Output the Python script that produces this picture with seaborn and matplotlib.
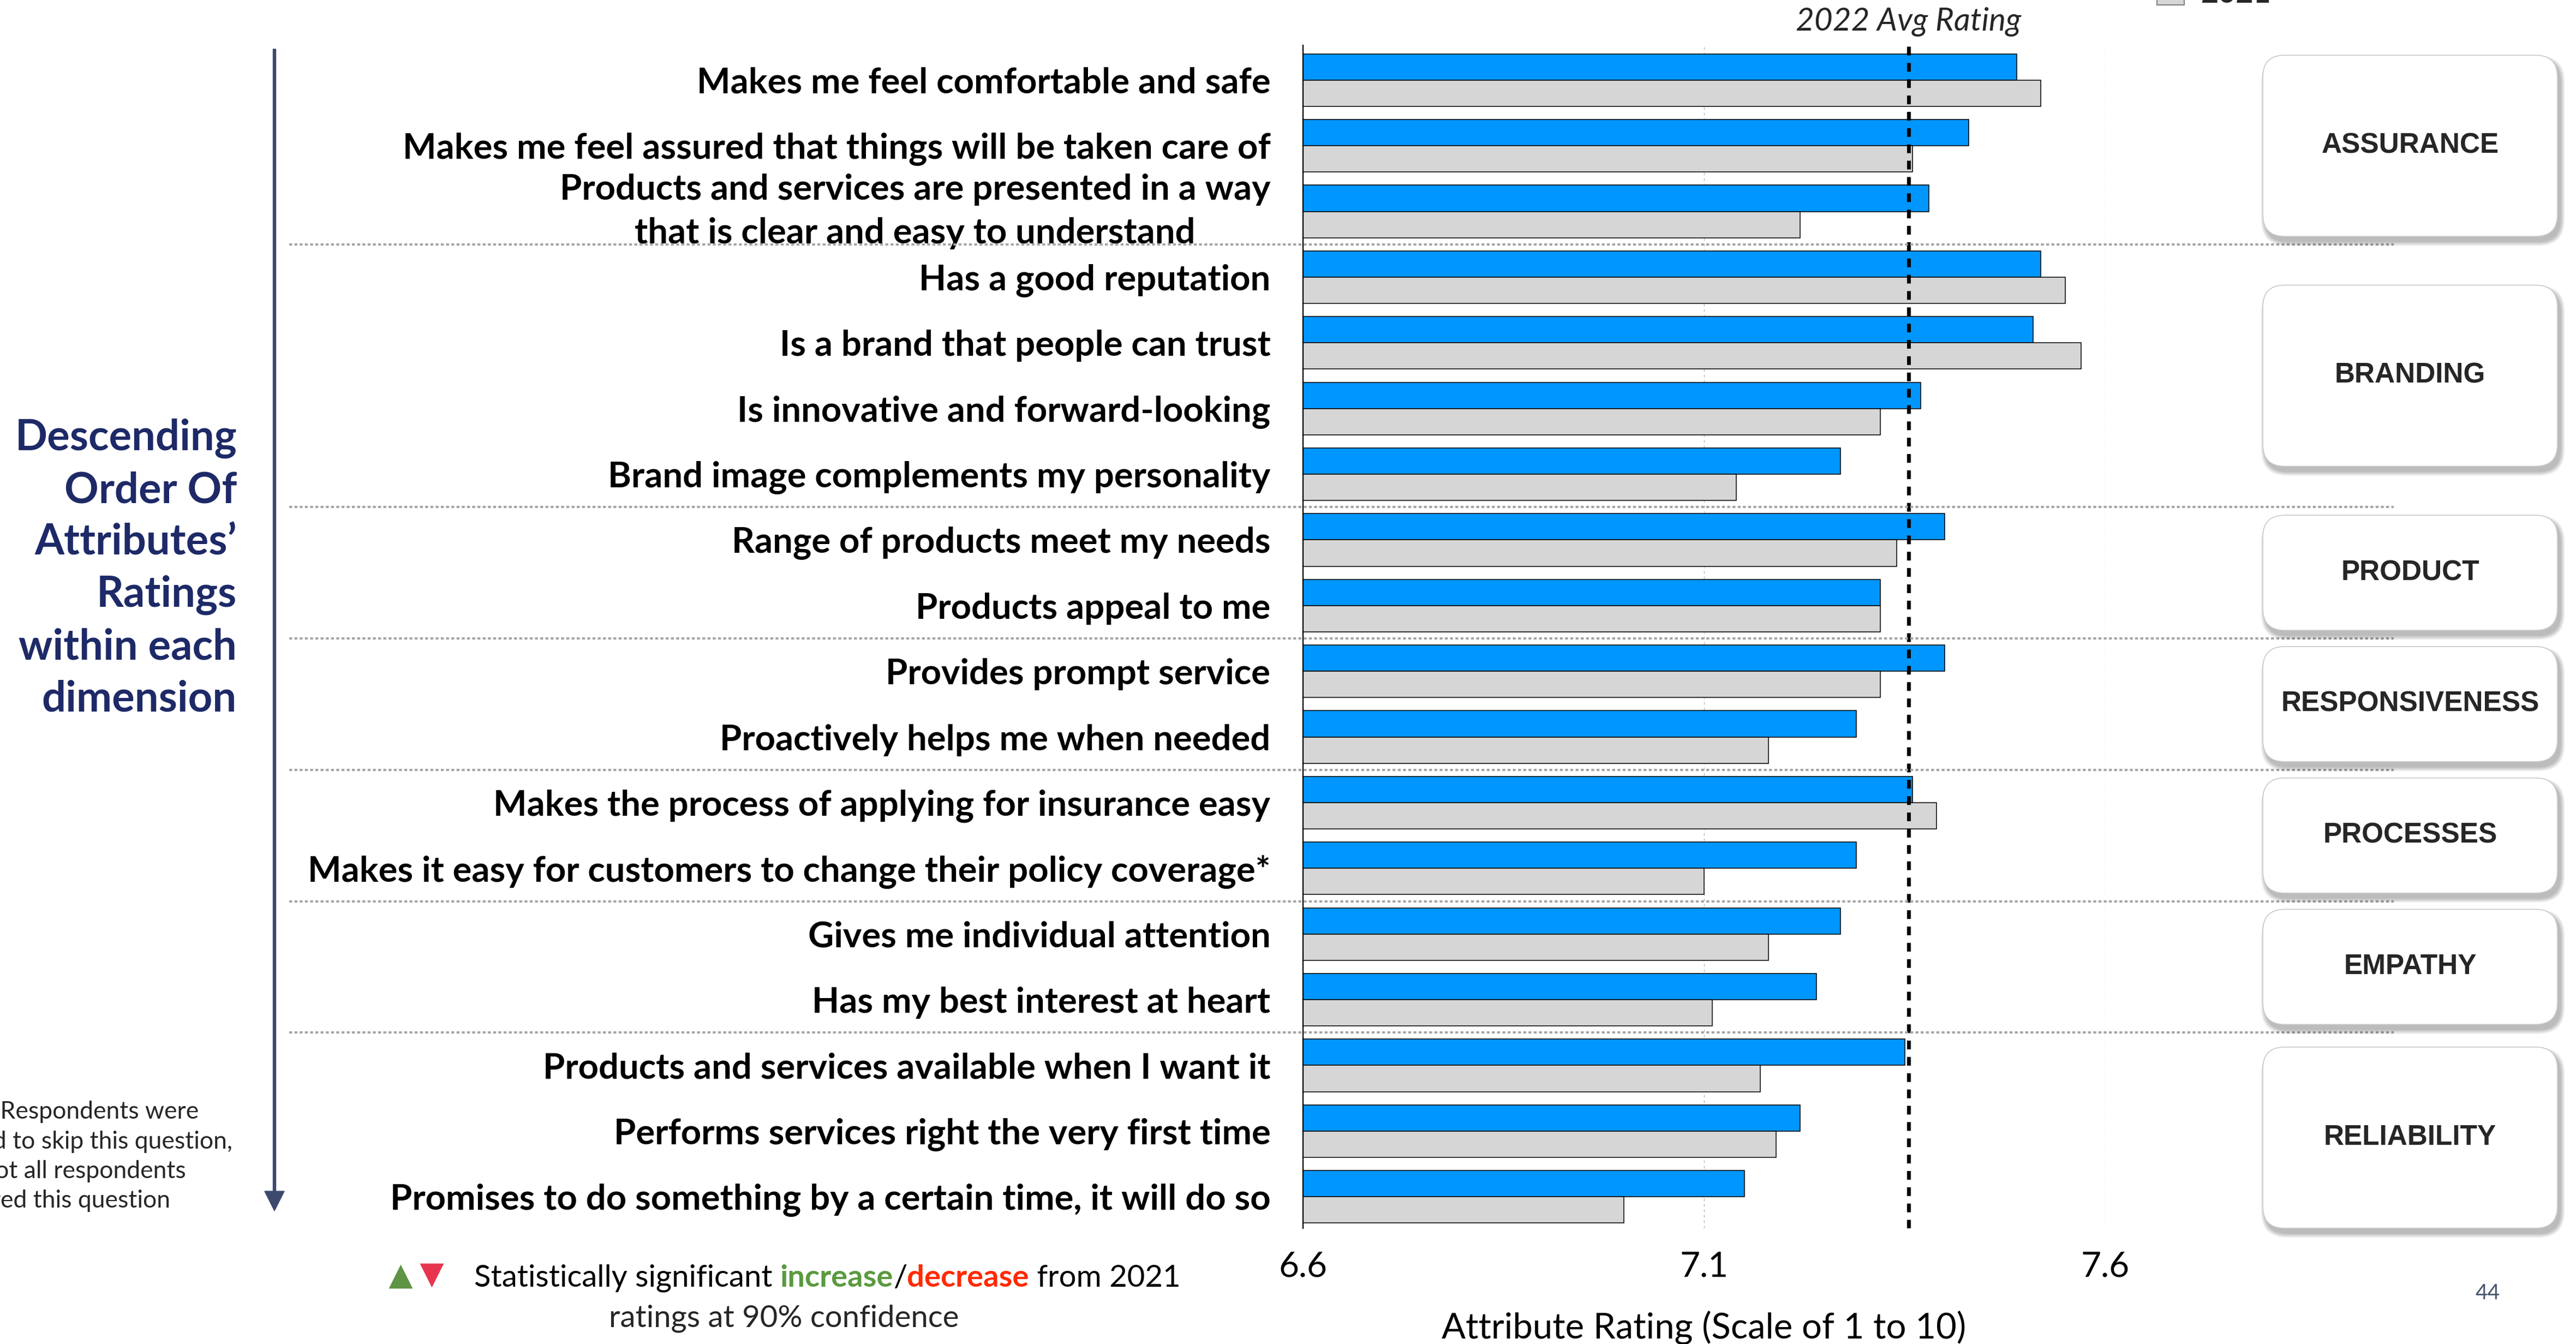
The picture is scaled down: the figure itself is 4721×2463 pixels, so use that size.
import matplotlib
matplotlib.use("Agg")
import matplotlib.pyplot as plt
import numpy as np
import pandas as pd
import seaborn as sns
from matplotlib.patches import FancyBboxPatch, Patch
from matplotlib.transforms import blended_transform_factory
from matplotlib import font_manager

# ---------------------------------------------------------------- data
attributes = [
    "Makes me feel comfortable and safe",
    "Makes me feel assured that things will be taken care of",
    "Products and services are presented in a way\nthat is clear and easy to understand",
    "Has a good reputation",
    "Is a brand that people can trust",
    "Is innovative and forward-looking",
    "Brand image complements my personality",
    "Range of products meet my needs",
    "Products appeal to me",
    "Provides prompt service",
    "Proactively helps me when needed",
    "Makes the process of applying for insurance easy",
    "Makes it easy for customers to change their policy coverage*",
    "Gives me individual attention",
    "Has my best interest at heart",
    "Products and services available when I want it",
    "Performs services right the very first time",
    "Promises to do something by a certain time, it will do so",
]
rating_2022 = [7.49, 7.43, 7.38, 7.52, 7.51, 7.37, 7.27, 7.40, 7.32, 7.40,
               7.29, 7.36, 7.29, 7.27, 7.24, 7.35, 7.22, 7.15]
rating_2021 = [7.52, 7.36, 7.22, 7.55, 7.57, 7.32, 7.14, 7.34, 7.32, 7.32,
               7.18, 7.39, 7.10, 7.18, 7.11, 7.17, 7.19, 7.00]
years = ["2022", "2021"]
avg_rating_2022 = 7.355

dimensions = ["ASSURANCE", "BRANDING", "PRODUCT", "RESPONSIVENESS",
              "PROCESSES", "EMPATHY", "RELIABILITY"]
dimension_sizes = [3, 4, 2, 2, 2, 2, 3]

x_ticks = [6.6, 7.1, 7.6]

# ---------------------------------------------------------------- style
sns.set_theme(style="white")


def pick(*names):
    avail = {f.name for f in font_manager.fontManager.ttflist}
    for n in names:
        if n in avail:
            return n
    return "DejaVu Sans"


MAIN = pick("Lato", "Open Sans", "Noto Sans")
BOXF = pick("Liberation Sans", "Noto Sans")
plt.rcParams["font.family"] = [MAIN, "DejaVu Sans"]

BLUE = "#0096ff"
GREY = "#d6d6d6"
NAVY = "#1e2a67"
ARROW = "#3d4a6e"
SEP = "#a6a6a6"

W_PX, H_PX = 4721, 2463
fig = plt.figure(figsize=(W_PX / 100, H_PX / 100), dpi=100)
fig.patch.set_facecolor("white")


def fx(px):
    return px / W_PX


def fy(py):
    return 1 - py / H_PX


# ---------------------------------------------------------------- bars
ax_left, ax_right, ax_top, ax_bottom = 2388, 3858, 83, 2251
ax = fig.add_axes([fx(ax_left), fy(ax_bottom), fx(ax_right - ax_left),
                   (ax_bottom - ax_top) / H_PX])

n = len(attributes)
df = pd.DataFrame({
    "attribute": attributes * 2,
    "year": [years[0]] * n + [years[1]] * n,
    "rating": rating_2022 + rating_2021,
})
sns.barplot(data=df, x="rating", y="attribute", hue="year", order=attributes,
            hue_order=years, palette={years[0]: BLUE, years[1]: GREY},
            orient="h", width=0.8, saturation=1, edgecolor="black",
            linewidth=1.1, errorbar=None, legend=False, ax=ax, zorder=3)

ax.set_xlim(x_ticks[0], x_ticks[-1])
ax.set_ylim(n - 1 + 0.48, -0.53)
ax.set_xticks(x_ticks)
ax.set_xticklabels([f"{t:.1f}" for t in x_ticks])
ax.xaxis.grid(True, color="#b5b5b5", linestyle=(0, (4, 4)), linewidth=0.9)
ax.set_axisbelow(True)
for side in ["top", "right", "bottom"]:
    ax.spines[side].set_visible(False)
ax.spines["left"].set_color("black")
ax.spines["left"].set_linewidth(1.6)
ax.spines["left"].set_zorder(5)

ax.tick_params(axis="y", length=0, pad=43, labelsize=47, labelcolor="black")
ax.tick_params(axis="x", length=0, pad=30, labelsize=46, labelcolor="black")
for t in ax.get_yticklabels():
    t.set_fontweight("bold")
    t.set_multialignment("center")
    t.set_linespacing(1.42)
    if "\n" in t.get_text():
        t.set_verticalalignment("center")

ax.set_ylabel("")
ax.set_xlabel("Attribute Rating (Scale of 1 to 10)", fontsize=47, color="black")
ax.xaxis.set_label_coords(0.5, -(2433 - ax_bottom) / (ax_bottom - ax_top))
ax.xaxis.label.set_va("center")

ax.axvline(avg_rating_2022, color="black", lw=5, linestyle=(0, (2.3, 2.0)),
           zorder=6)
ax.text(avg_rating_2022, fy(40), "2022 Avg Rating", style="italic",
        fontsize=42, ha="center", va="center",
        transform=blended_transform_factory(ax.transData, fig.transFigure))

# legend (only the lower entry peeks in at the top edge)
handles = [Patch(facecolor=BLUE, edgecolor="black", lw=1),
           Patch(facecolor=GREY, edgecolor="#808080", lw=1.5)]
fig.legend(handles, years, loc="lower left", frameon=False,
           bbox_to_anchor=(fx(3953), fy(14)), borderpad=0, borderaxespad=0,
           handlelength=0.9, handleheight=0.9, handletextpad=0.55,
           labelspacing=0.3, prop={"family": MAIN, "weight": "bold", "size": 40})

# ---------------------------------------------------------------- overlay
ov = fig.add_axes([0, 0, 1, 1], zorder=10)
ov.set_xlim(0, W_PX)
ov.set_ylim(H_PX, 0)
ov.axis("off")

# dotted separators between dimensions, placed at category boundaries
bt = blended_transform_factory(fig.transFigure, ax.transData)
bounds = np.cumsum(dimension_sizes)[:-1] - 0.5
for b in bounds:
    line = plt.Line2D([fx(530), fx(4387)], [b, b], transform=bt, color=SEP,
                      lw=3, linestyle=(0, (1.3, 1.0)), zorder=2)
    fig.add_artist(line)

# dimension boxes, centred on their group of rows
fig.canvas.draw()
starts = np.concatenate([[0], np.cumsum(dimension_sizes)[:-1]])
to_px = ax.transData
for name, s, k in zip(dimensions, starts, dimension_sizes):
    y0 = to_px.transform((x_ticks[0], s - 0.5))[1]
    y1 = to_px.transform((x_ticks[0], s + k - 0.5))[1]
    yc = H_PX - (y0 + y1) / 2
    h = 211 if k == 2 else 332
    if s + k == n:
        yc += 12
    x0, w = 4147, 540
    # soft shadow
    for i in range(8):
        grow = 2 + i * 2.2
        sh = FancyBboxPatch((x0 + 5 - grow / 2, yc - h / 2 + 9 - grow / 2),
                            w + grow, h + grow,
                            boxstyle=f"round,pad=0,rounding_size={40 + grow / 2}",
                            facecolor="black", edgecolor="none",
                            alpha=0.035, zorder=3)
        ov.add_patch(sh)
    box = FancyBboxPatch((x0, yc - h / 2), w, h,
                         boxstyle="round,pad=0,rounding_size=40",
                         facecolor="white", edgecolor="#c9c9c9", lw=1.2,
                         zorder=4)
    ov.add_patch(box)
    ov.text(x0 + w / 2, yc, name, ha="center", va="center", fontsize=37,
            fontweight="bold", family=[BOXF, "DejaVu Sans"], zorder=5)

# left annotation and arrow
ov.text(434, 1042,
        "Descending\nOrder Of\nAttributes\u2019\nRatings\nwithin each\ndimension",
        ha="right", va="center", multialignment="right", fontsize=56,
        fontweight="bold", color=NAVY, linespacing=1.40)
ov.arrow(503, 90, 0, 2219 - 90, width=5, head_width=36, head_length=36,
         length_includes_head=True, color=ARROW, zorder=3)

# footnote, running off the left edge
r = fig.canvas.get_renderer()
probe = ov.text(0, 0, "*Note: ", fontsize=32)
pw = probe.get_window_extent(renderer=r).width
probe.remove()
ov.text(-pw, 2213,
        "*Note: Respondents were\nallowed to skip this question,\n"
        "thus, not all respondents\nanswered this question",
        ha="left", va="baseline", fontsize=32, linespacing=1.40)

# significance note
note_size = 40.5
pieces = [("Statistically significant ", "black", "normal"),
          ("increase", "#5b9a3f", "bold"),
          ("/", "black", "normal"),
          ("decrease", "#ff2a00", "bold"),
          (" from 2021", "black", "normal")]
widths = []
for txt, c, wt in pieces:
    t = ov.text(0, 0, txt, fontsize=note_size, fontweight=wt)
    widths.append(t.get_window_extent(renderer=r).width)
    t.remove()
tri_block = 158
total = tri_block + sum(widths)
cx = 1437
x = cx - total / 2
ov.scatter([x + 23], [2339], marker="^", s=1000, color="#5f9444",
           linewidths=0, zorder=5)
ov.scatter([x + 80], [2337], marker="v", s=1000, color="#e8354f",
           linewidths=0, zorder=5)
x += tri_block
for (txt, c, wt), w in zip(pieces, widths):
    ov.text(x, 2358, txt, fontsize=note_size, color=c, fontweight=wt,
            ha="left", va="baseline")
    x += w
ov.text(cx, 2432, "ratings at 90% confidence", fontsize=note_size,
        ha="center", va="baseline")

ov.text(4559, 2370, "44", fontsize=28, color="#44546a", ha="center",
        va="center")

fig.savefig("out.png", dpi=100, facecolor="white")
